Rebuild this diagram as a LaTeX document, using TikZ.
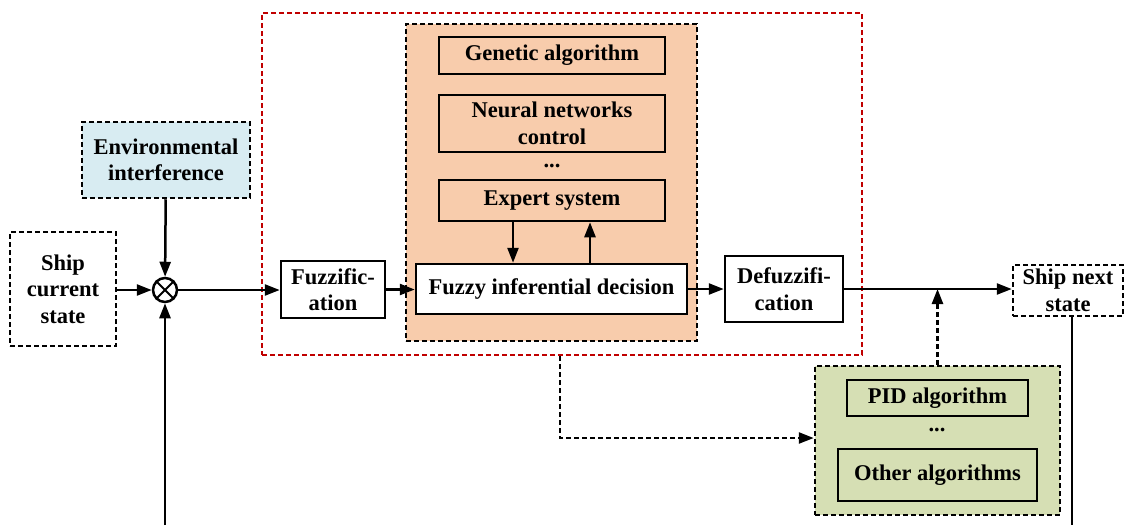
\documentclass[tikz,border=0pt]{standalone}
\usepackage{fontspec}
\setmainfont{Liberation Serif}
\usetikzlibrary{arrows.meta}
\definecolor{redbox}{RGB}{192,0,0}
\definecolor{peach}{RGB}{248,204,172}
\definecolor{olivebg}{RGB}{214,223,180}
\definecolor{lightblue}{RGB}{216,236,242}
\tikzset{
  every node/.style={font=\fontsize{22.5}{26.5}\selectfont\bfseries, align=center, inner sep=0pt},
  solidbox/.style={draw, line width=2.5pt, fill=white},
  dashbox/.style={draw, line width=2.5pt, dash pattern=on 5pt off 3pt},
  arr/.style={line width=2.5pt, -{Triangle[length=15pt,width=11pt]}},
  darr/.style={line width=2.5pt, dash pattern=on 5pt off 3pt, -{Triangle[length=15pt,width=11pt]}},
  plainline/.style={line width=2.5pt},
}
\begin{document}
\begin{tikzpicture}[x=1pt,y=-1pt]
\useasboundingbox (0,0) rectangle (1126,525);
% containers
\node[draw=redbox, line width=2.5pt, dash pattern=on 5pt off 3pt, minimum width=600pt, minimum height=342pt] (red) at (562,184) {};
\node[dashbox, fill=peach, minimum width=291pt, minimum height=317pt] (orange) at (551.5,182.5) {};
\node[dashbox, fill=olivebg, minimum width=245pt, minimum height=149pt] (green) at (937.5,440.5) {};
% left
\node[dashbox, fill=lightblue, minimum width=168pt, minimum height=76pt] (env) at (166,160) {Environmental\\interference};
\node[dashbox, fill=white, minimum width=106pt, minimum height=114pt] (cur) at (63,289) {Ship\\current\\state};
\node[draw, circle, line width=2.5pt, minimum size=24pt, fill=white] (o) at (165,290) {};
\draw[line width=1.8pt] (o.45) -- (o.225) (o.135) -- (o.315);
% inner boxes
\node[solidbox, fill=peach, minimum width=226pt, minimum height=37pt] (gen) at (552,55.5) {Genetic algorithm};
\node[solidbox, fill=peach, minimum width=226pt, minimum height=57pt] (nn) at (552,123.5) {Neural networks\\control};
\node (dots1) at (552,166) {...};
\node[solidbox, fill=peach, minimum width=226pt, minimum height=41pt] (exp) at (552,200.5) {Expert system};
\node[solidbox, minimum width=271pt, minimum height=50pt] (fid) at (551.5,289) {Fuzzy inferential decision};
\node[solidbox, minimum width=104pt, minimum height=57pt] (fuzz) at (333,289.5) {Fuzzific-\\ation};
\node[solidbox, minimum width=118pt, minimum height=66pt] (defuzz) at (784,289) {Defuzzifi-\\cation};
\node[dashbox, fill=white, minimum width=110pt, minimum height=51pt] (next) at (1068,290.5) {Ship next\\state};
\node[solidbox, fill=olivebg, minimum width=181pt, minimum height=36pt] (pid) at (937.5,398) {PID algorithm};
\node (dots2) at (937,430) {...};
\node[solidbox, fill=olivebg, minimum width=199pt, minimum height=52pt] (other) at (937.5,475) {Other algorithms};
% helper coordinates
\coordinate (xa) at (513,0);
\coordinate (xb) at (590,0);
\coordinate (xd) at (560,438);
\coordinate (bot1) at (1072,525);
\coordinate (bot2) at (165,525);
% connectors
\draw[arr] (env) -- (o);
\draw[arr] (cur.east |- o) -- (o);
\draw[arr] (o) -- (fuzz.west |- o);
\draw[arr] (fuzz) -- (fid.west |- fuzz);
\draw[arr] (fid) -- (defuzz);
\draw[arr] (exp.south -| xa) -- (fid.north -| xa);
\draw[arr] (fid.north -| xb) -- (exp.south -| xb);
\draw[arr] (defuzz.east) -- (defuzz.east -| next.west);
\draw[darr] (green.north) -- (green.north |- defuzz.east);
\draw[darr] (red.south -| xd) -- (xd) -- (xd -| green.west);
\draw[plainline] (next.south -| bot1) -- (bot1);
\draw[arr] (bot2) -- (o);
\end{tikzpicture}
\end{document}
